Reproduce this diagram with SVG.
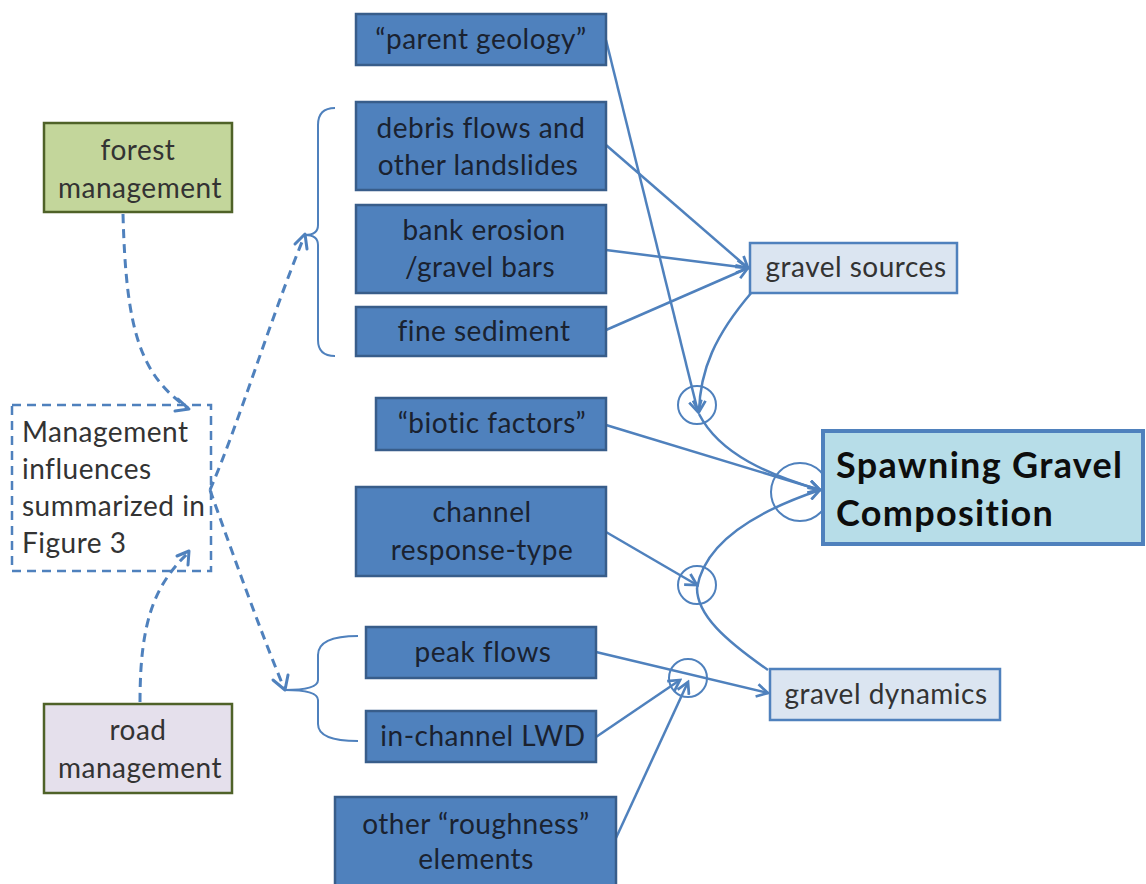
<svg xmlns="http://www.w3.org/2000/svg" width="1146" height="884" viewBox="0 0 1146 884">
  <style>
    .t { font-family: Lato, "Open Sans", "Liberation Sans", sans-serif; font-size: 28px; letter-spacing: 0.5px; text-anchor: middle; }
    .ls { text-anchor: start; }
    .dark { fill: #1a2230; }
    .grey { fill: #333333; }
    .cause { fill: #4f81bd; stroke: #385d8a; stroke-width: 2.5; }
    .pale { fill: #dbe5f1; stroke: #4f81bd; stroke-width: 2.5; }
    .ring { fill: none; stroke: #4f81bd; stroke-width: 2; }
    .link { fill: none; stroke: #4f81bd; stroke-width: 2.5; }
    .dash { fill: none; stroke: #4f81bd; stroke-width: 3; stroke-dasharray: 9 6; }
    .head { fill: none; stroke: #4f81bd; stroke-width: 3; stroke-linecap: round; stroke-linejoin: round; }
    .brace { fill: none; stroke: #4f81bd; stroke-width: 2; }
  </style>
  <defs>
    <marker id="arr" viewBox="0 0 12 12" refX="10" refY="6" markerWidth="6" markerHeight="6" markerUnits="strokeWidth" orient="auto">
      <path d="M1,1 L10,6 L1,11" fill="none" stroke="#4f81bd" stroke-width="2.2" stroke-dasharray="none"/>
    </marker>
  </defs>

  <rect width="1146" height="884" fill="#ffffff"/>

  <!-- management nodes -->
  <g id="forest">
    <rect x="44" y="123" width="188" height="89" fill="#c3d69b" stroke="#4f6228" stroke-width="2.5"/>
    <text class="t grey" x="138" y="160">forest</text>
    <text class="t grey" x="140" y="198">management</text>
  </g>
  <g id="road">
    <rect x="44" y="704" width="188" height="89" fill="#e5e0ec" stroke="#4f6228" stroke-width="2.5"/>
    <text class="t grey" x="138" y="740">road</text>
    <text class="t grey" x="140" y="778">management</text>
  </g>
  <g id="summary">
    <rect x="12" y="405" width="199" height="166" fill="none" stroke="#4f81bd" stroke-width="2.5" stroke-dasharray="9 6"/>
    <text class="t grey ls" x="22" y="442">Management</text>
    <text class="t grey ls" x="22" y="479">influences</text>
    <text class="t grey ls" x="22" y="516">summarized in</text>
    <text class="t grey ls" x="22" y="553">Figure 3</text>
  </g>

  <!-- connectors -->
  <g id="connectors">
    <!-- brackets grouping the factor boxes -->
    <path class="brace" d="M335,108 Q318,108 318,125 L318,225 Q318,235 305,235 Q318,235 318,245 L318,340 Q318,356 335,356"/>
    <path class="brace" d="M358,636 Q318,636 318,655 L318,680 Q318,690 285,690 Q318,690 318,700 L318,724 Q318,741 358,741"/>

    <!-- dashed management influences -->
    <path class="dash" d="M123,214 C126,330 140,375 188,408"/>
    <path class="head" d="M178,399 L189,409 L175,411"/>
    <path class="dash" d="M140,702 C140,620 155,585 188,553"/>
    <path class="head" d="M177,556 L189,551 L188,565"/>
    <path class="dash" d="M210,490 C240,420 270,320 304,237"/>
    <path class="head" d="M295,244 L305,234 L307,249"/>
    <path class="dash" d="M210,490 C235,560 260,630 284,688"/>
    <path class="head" d="M273,680 L285,690 L288,675"/>

    <!-- sources feeding gravel sources -->
    <path class="link" d="M606,145 L748,268" marker-end="url(#arr)"/>
    <path class="link" d="M606,250 L748,268" marker-end="url(#arr)"/>
    <path class="link" d="M606,330 L748,268" marker-end="url(#arr)"/>

    <!-- parent geology to upper junction -->
    <path class="link" d="M606,40 L698,412" marker-end="url(#arr)"/>
    <!-- gravel sources to upper junction -->
    <path class="link" d="M752,292 C715,335 700,370 699,412" marker-end="url(#arr)"/>
    <!-- upper junction to spawning gravel -->
    <path class="link" d="M699,414 C720,455 770,475 820,490" marker-end="url(#arr)"/>
    <!-- biotic factors -->
    <path class="link" d="M606,425 L820,490" marker-end="url(#arr)"/>

    <!-- channel response-type to middle junction -->
    <path class="link" d="M606,532 L697,585" marker-end="url(#arr)"/>
    <!-- middle junction to spawning gravel -->
    <path class="link" d="M697,588 C705,540 760,510 820,490" marker-end="url(#arr)"/>
    <!-- gravel dynamics to middle junction -->
    <path class="link" d="M768,670 C725,640 697,615 697,588"/>

    <!-- peak flows to gravel dynamics -->
    <path class="link" d="M596,652 L768,693" marker-end="url(#arr)"/>
    <!-- LWD and roughness to lower junction -->
    <path class="link" d="M596,737 L680,680" marker-end="url(#arr)"/>
    <path class="link" d="M616,838 L688,682" marker-end="url(#arr)"/>

    <!-- junction rings -->
    <circle class="ring" cx="697" cy="405" r="19"/>
    <circle class="ring" cx="800" cy="492" r="29"/>
    <circle class="ring" cx="697" cy="585" r="19"/>
    <circle class="ring" cx="688" cy="678" r="19"/>
  </g>

  <!-- factor nodes -->
  <g id="parent-geology">
    <rect class="cause" x="356" y="14" width="250" height="51"/>
    <text class="t dark" x="481" y="49">“parent geology”</text>
  </g>
  <g id="debris-flows">
    <rect class="cause" x="356" y="102" width="250" height="88"/>
    <text class="t dark" x="481" y="138">debris flows and</text>
    <text class="t dark" x="478" y="175">other landslides</text>
  </g>
  <g id="bank-erosion">
    <rect class="cause" x="356" y="205" width="250" height="88"/>
    <text class="t dark" x="484" y="240">bank erosion</text>
    <text class="t dark" x="480" y="277">/gravel bars</text>
  </g>
  <g id="fine-sediment">
    <rect class="cause" x="356" y="307" width="250" height="49"/>
    <text class="t dark" x="484" y="341">fine sediment</text>
  </g>
  <g id="biotic-factors">
    <rect class="cause" x="376" y="398" width="230" height="52"/>
    <text class="t dark" x="492" y="433">“biotic factors”</text>
  </g>
  <g id="channel-response">
    <rect class="cause" x="356" y="487" width="250" height="89"/>
    <text class="t dark" x="482" y="522">channel</text>
    <text class="t dark" x="482" y="560">response-type</text>
  </g>
  <g id="peak-flows">
    <rect class="cause" x="366" y="627" width="230" height="51"/>
    <text class="t dark" x="483" y="662">peak flows</text>
  </g>
  <g id="lwd">
    <rect class="cause" x="366" y="711" width="230" height="51"/>
    <text class="t dark" x="483" y="746">in-channel LWD</text>
  </g>
  <g id="roughness">
    <rect class="cause" x="335" y="797" width="281" height="95"/>
    <text class="t dark" x="476" y="834">other “roughness”</text>
    <text class="t dark" x="476" y="869">elements</text>
  </g>

  <!-- intermediate nodes -->
  <g id="gravel-sources">
    <rect class="pale" x="750" y="243" width="207" height="50"/>
    <text class="t grey" x="856" y="277">gravel sources</text>
  </g>
  <g id="gravel-dynamics">
    <rect class="pale" x="770" y="669" width="230" height="51"/>
    <text class="t grey" x="886" y="704">gravel dynamics</text>
  </g>

  <!-- outcome node -->
  <g id="spawning-gravel">
    <rect x="823" y="431" width="320" height="113" fill="#b7dde8" stroke="#4f81bd" stroke-width="4"/>
    <text x="836" y="478" font-family="Lato, 'Open Sans', 'Liberation Sans', sans-serif" font-size="36" font-weight="bold" letter-spacing="1.3" fill="#0d0d0d">Spawning Gravel</text>
    <text x="836" y="526" font-family="Lato, 'Open Sans', 'Liberation Sans', sans-serif" font-size="36" font-weight="bold" letter-spacing="1.3" fill="#0d0d0d">Composition</text>
  </g>
</svg>
